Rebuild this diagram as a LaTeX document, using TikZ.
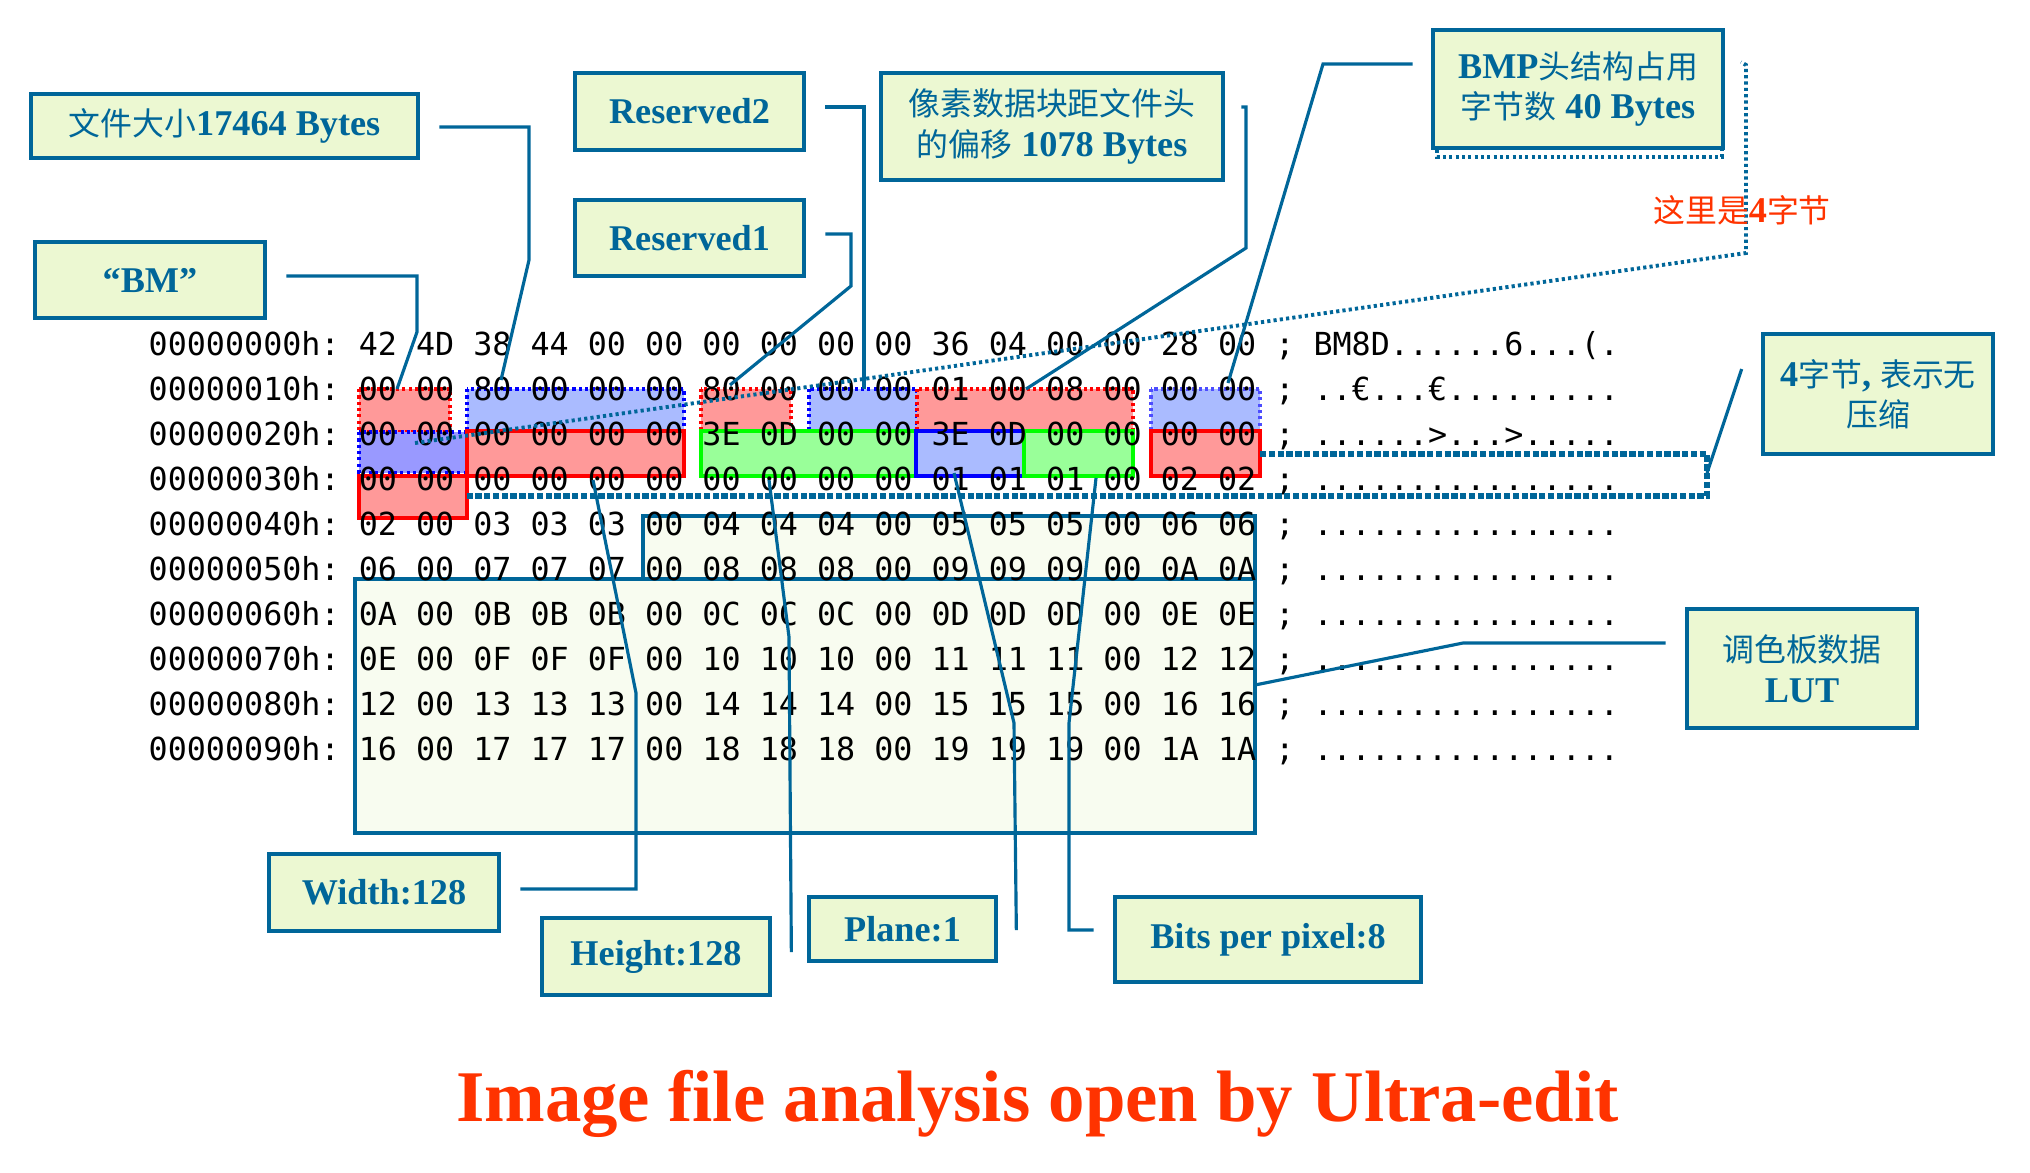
\documentclass[tikz,border=0pt]{standalone}
\usepackage{fontspec}
\setmainfont{Liberation Serif}
\setmonofont{DejaVu Sans Mono}
\newfontfamily\cjk[Scale=0.88]{Noto Sans CJK SC}
\newcommand\zhtext[1]{{\cjk\mdseries #1}}
\usetikzlibrary{calc}
\definecolor{lineblue}{RGB}{0,102,153}
\definecolor{notefill}{RGB}{236,248,210}
\definecolor{palfill}{RGB}{248,252,240}
\definecolor{redfill}{RGB}{255,153,153}
\definecolor{bluefill}{RGB}{170,187,255}
\definecolor{purplefill}{RGB}{153,153,255}
\definecolor{greenfill}{RGB}{153,255,153}
\definecolor{greenline}{RGB}{0,255,0}
\definecolor{titlered}{RGB}{255,51,0}

\begin{document}
\begin{tikzpicture}[x=0.01cm, y=-0.01cm,
    note/.style = {draw=lineblue, line width=1.3pt, fill=notefill, text=lineblue,
      font=\bfseries\fontsize{10.3}{11.5}\selectfont, align=center, inner sep=0pt},
    link/.style = {draw=lineblue, line width=0.9pt},
    hexrow/.style = {anchor=base west, inner sep=0pt,
      font=\ttfamily\fontsize{9.02}{10}\selectfont\frenchspacing},
    dotbox/.style = {line width=0.9pt, dash pattern=on 0.9pt off 0.9pt},
    solidbox/.style = {line width=1.3pt},
  ]
  \useasboundingbox (0,0) rectangle (2030,1172);

  % palette area
  \filldraw[fill=palfill, draw=lineblue, line width=1.2pt] (643,516) rectangle (1255,579);
  \filldraw[fill=palfill, draw=lineblue, line width=1.2pt] (355,579) rectangle (1255,833);

  % header fields
  \filldraw[fill=redfill, draw=red, dotbox] (359,389) rectangle (450,432);
  \filldraw[fill=bluefill, draw=blue, dotbox] (467,389) rectangle (684,432);
  \filldraw[fill=redfill, draw=red, dotbox] (701,389) rectangle (791,432);
  \filldraw[fill=bluefill, draw=blue, dotbox] (809,389) rectangle (917,432);
  \filldraw[fill=redfill, draw=red, dotbox] (917,389) rectangle (1133,432);
  \filldraw[fill=bluefill, draw=blue!70, dotbox] (1151,389) rectangle (1260,432);
  \filldraw[fill=purplefill, draw=blue, dotbox] (359,432) rectangle (467,473);
  \filldraw[fill=redfill, draw=red, solidbox] (467,431) rectangle (684,476);
  \filldraw[fill=greenfill, draw=greenline, solidbox] (701,431) rectangle (916,476);
  \filldraw[fill=bluefill, draw=blue, solidbox] (916,431) rectangle (1024,476);
  \filldraw[fill=greenfill, draw=greenline, solidbox] (1024,431) rectangle (1133,476);
  \filldraw[fill=redfill, draw=red, solidbox] (1151,431) rectangle (1260,476);
  \filldraw[fill=redfill, draw=red, solidbox] (359,476) rectangle (467,518);

  \foreach \i/\txt in {
      0/{00000000h: 42 4D 38 44 00 00 00 00 00 00 36 04 00 00 28 00 ; BM8D......6...(.},
      1/{00000010h: 00 00 80 00 00 00 80 00 00 00 01 00 08 00 00 00 ; ..€...€.........},
      2/{00000020h: 00 00 00 00 00 00 3E 0D 00 00 3E 0D 00 00 00 00 ; ......>...>.....},
      3/{00000030h: 00 00 00 00 00 00 00 00 00 00 01 01 01 00 02 02 ; ................},
      4/{00000040h: 02 00 03 03 03 00 04 04 04 00 05 05 05 00 06 06 ; ................},
      5/{00000050h: 06 00 07 07 07 00 08 08 08 00 09 09 09 00 0A 0A ; ................},
      6/{00000060h: 0A 00 0B 0B 0B 00 0C 0C 0C 00 0D 0D 0D 00 0E 0E ; ................},
      7/{00000070h: 0E 00 0F 0F 0F 00 10 10 10 00 11 11 11 00 12 12 ; ................},
      8/{00000080h: 12 00 13 13 13 00 14 14 14 00 15 15 15 00 16 16 ; ................},
      9/{00000090h: 16 00 17 17 17 00 18 18 18 00 19 19 19 00 1A 1A ; ................}}
    \node[hexrow] (row\i) at (148,{355+45*\i}) {\txt};

  % brackets
  \draw[lineblue, line width=1.1pt, dash pattern=on 0.9pt off 0.9pt]
    (415,443) -- (1746,253) -- (1746,65) -- (1741,62);
  \draw[lineblue, line width=1.5pt, dash pattern=on 1.8pt off 0.7pt]
    (1260,454) -- (1707,454) -- (1707,496) -- (467,496);
  \draw[lineblue, line width=1.2pt, dash pattern=on 0.9pt off 0.9pt]
    (1437,30) rectangle (1722,157);

  % labels
  \node[note, minimum width=3.87cm, minimum height=0.64cm] (size) at (224.5,126) {\zhtext{文件大小}17464 Bytes};
  \node[note, minimum width=2.30cm, minimum height=0.76cm] (bm) at (150,280) {“BM”};
  \node[note, minimum width=2.29cm, minimum height=0.77cm] (res2) at (689.5,111.5) {Reserved2};
  \node[note, minimum width=2.29cm, minimum height=0.76cm] (res1) at (689.5,238) {Reserved1};
  \node[note, minimum width=3.42cm, minimum height=1.07cm] (offset) at (1052,126.5) {\zhtext{像素数据块距文件头}\\\zhtext{的偏移} 1078 Bytes};
  \node[note, minimum width=2.90cm, minimum height=1.18cm] (hdrsize) at (1578,89) {BMP\zhtext{头结构占用}\\\zhtext{字节数} 40 Bytes};
  \node[note, minimum width=2.30cm, minimum height=1.20cm] (nocomp) at (1878,394) {4\zhtext{字节}, \zhtext{表示无}\\\zhtext{压缩}};
  \node[note, minimum width=2.30cm, minimum height=1.19cm] (lut) at (1802,668.5) {\zhtext{调色板数据}\\LUT};
  \node[note, minimum width=2.30cm, minimum height=0.77cm] (width) at (384,892.5) {Width:128};
  \node[note, minimum width=2.28cm, minimum height=0.77cm] (height) at (656,956.5) {Height:128};
  \node[note, minimum width=1.87cm, minimum height=0.64cm] (plane) at (902.5,929) {Plane:1};
  \node[note, minimum width=3.06cm, minimum height=0.85cm] (bpp) at (1268,939.5) {Bits per pixel:8};
  \node[font=\bfseries\fontsize{10.3}{12}\selectfont, text=titlered] (four) at (1742,210) {\zhtext{这里是}4\zhtext{字节}};

  % connector ends
  \coordinate (sizeEnd) at (501,380);
  \coordinate (bmEnd) at (397,389);
  \coordinate (res2End) at (864,389);
  \coordinate (res1End) at (730,385);
  \coordinate (offEnd) at (1026,389);
  \coordinate (hdrEnd) at (1228,383);
  \coordinate (nocompEnd) at (1707,473);
  \coordinate (lutEnd) at (1255,685);
  \coordinate (widthEnd) at (593,480);
  \coordinate (heightEnd) at (769,480);
  \coordinate (planeEnd) at (954,473);
  \coordinate (bppEnd) at (1096,478);

  \draw[link] ($(size.east)+(19,1)$) -| (529,260) -- (sizeEnd);
  \draw[link] ($(bm.east)+(19,-4)$) -| (417,332) -- (bmEnd);
  \draw[link] ($(res2.east)+(19,-4.5)$) -| (res2End);
  \draw[link] ($(res1.east)+(19,-4)$) -| (851,286) -- (res1End);
  \draw[link] ($(offset.east)+(16,-19.5)$) -| (1246,248) -- (offEnd);
  \draw[link] ($(hdrsize.west)+(-18,-25)$) -- (1323,64) -- (hdrEnd);
  \draw[link] ($(nocomp.west)+(-19,-25)$) -- (nocompEnd);
  \draw[link] ($(lut.west)+(-19,-25.5)$) -- (1463,643) -- (lutEnd);
  \draw[link] ($(width.east)+(19,-3.5)$) -| (636,693) -- (widthEnd);
  \draw[link] ($(height.east)+(19,-4.5)$) -- (789,637) -- (heightEnd);
  \draw[link] ($(plane.east)+(18,1)$) -- (1014,723) -- (planeEnd);
  \draw[link] ($(bpp.west)+(-19,-9.5)$) -| (1069,723) -- (bppEnd);

  \node[font=\bfseries\fontsize{20.7}{24}\selectfont, text=titlered, anchor=base] (title) at (1037.5,1121) {Image file analysis open by Ultra-edit};
\end{tikzpicture}
\end{document}
